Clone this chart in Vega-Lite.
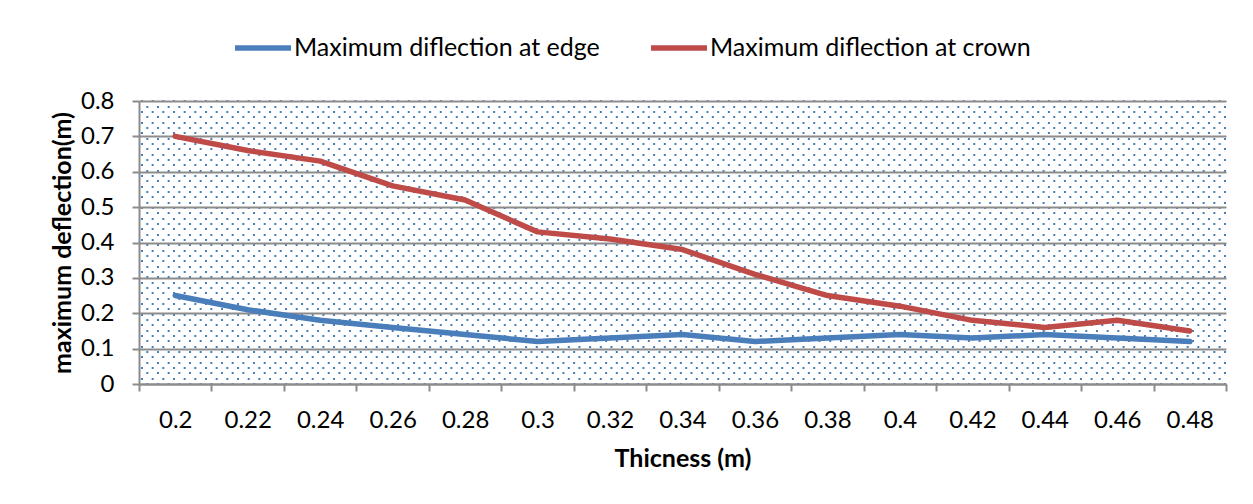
{
  "$schema": "https://vega.github.io/schema/vega-lite/v6.json",
  "width": 1087,
  "height": 283,
  "autosize": {"type": "none"},
  "padding": {"left": 139, "top": 101, "right": 27, "bottom": 120},
  "background": "white",
  "config": {
    "view": {"stroke": null},
    "font": "Lato",
    "axis": {"labelFont": "Lato", "titleFont": "Lato", "labelColor": "#000000", "titleColor": "#000000"}
  },
  "data": {
    "values": [
      {"t": 0.2, "series": "Maximum diflection at edge", "value": 0.25},
      {"t": 0.22, "series": "Maximum diflection at edge", "value": 0.21},
      {"t": 0.24, "series": "Maximum diflection at edge", "value": 0.18},
      {"t": 0.26, "series": "Maximum diflection at edge", "value": 0.16},
      {"t": 0.28, "series": "Maximum diflection at edge", "value": 0.14},
      {"t": 0.3, "series": "Maximum diflection at edge", "value": 0.12},
      {"t": 0.32, "series": "Maximum diflection at edge", "value": 0.13},
      {"t": 0.34, "series": "Maximum diflection at edge", "value": 0.14},
      {"t": 0.36, "series": "Maximum diflection at edge", "value": 0.12},
      {"t": 0.38, "series": "Maximum diflection at edge", "value": 0.13},
      {"t": 0.4, "series": "Maximum diflection at edge", "value": 0.14},
      {"t": 0.42, "series": "Maximum diflection at edge", "value": 0.13},
      {"t": 0.44, "series": "Maximum diflection at edge", "value": 0.14},
      {"t": 0.46, "series": "Maximum diflection at edge", "value": 0.13},
      {"t": 0.48, "series": "Maximum diflection at edge", "value": 0.12},
      {"t": 0.2, "series": "Maximum diflection at crown", "value": 0.7},
      {"t": 0.22, "series": "Maximum diflection at crown", "value": 0.66},
      {"t": 0.24, "series": "Maximum diflection at crown", "value": 0.63},
      {"t": 0.26, "series": "Maximum diflection at crown", "value": 0.56},
      {"t": 0.28, "series": "Maximum diflection at crown", "value": 0.52},
      {"t": 0.3, "series": "Maximum diflection at crown", "value": 0.43},
      {"t": 0.32, "series": "Maximum diflection at crown", "value": 0.41},
      {"t": 0.34, "series": "Maximum diflection at crown", "value": 0.38},
      {"t": 0.36, "series": "Maximum diflection at crown", "value": 0.31},
      {"t": 0.38, "series": "Maximum diflection at crown", "value": 0.25},
      {"t": 0.4, "series": "Maximum diflection at crown", "value": 0.22},
      {"t": 0.42, "series": "Maximum diflection at crown", "value": 0.18},
      {"t": 0.44, "series": "Maximum diflection at crown", "value": 0.16},
      {"t": 0.46, "series": "Maximum diflection at crown", "value": 0.18},
      {"t": 0.48, "series": "Maximum diflection at crown", "value": 0.15}
    ]
  },
  "layer": [
    {
      "mark": {"type": "rule", "opacity": 0},
      "encoding": {
        "y": {
          "datum": 0,
          "type": "quantitative",
          "scale": {"domain": [0, 53.06], "nice": false, "zero": false},
          "axis": {
            "orient": "right",
            "grid": true,
            "labels": false,
            "ticks": false,
            "domain": false,
            "title": null,
            "tickCount": 54,
            "translate": 0,
            "gridColor": "#4a7ebb",
            "gridOpacity": 1,
            "gridWidth": 2,
            "gridDash": [2, 8.67],
            "gridDashOffset": {"condition": {"test": "datum.value % 2 === 0", "value": 0}, "value": 5.33}
          }
        }
      }
    },
    {
      "mark": {"type": "line", "strokeWidth": 5.5, "strokeCap": "round", "strokeJoin": "round"},
      "encoding": {
        "x": {
          "field": "t",
          "type": "ordinal",
          "scale": {"type": "band", "paddingInner": 0, "paddingOuter": 0},
          "axis": {
            "title": "Thicness (m)",
            "titleFontSize": 25,
            "titleFontWeight": "bold",
            "titlePadding": 14,
            "labelFontSize": 24,
            "labelAngle": 0,
            "labelPadding": 17,
            "tickBand": "extent",
            "tickSize": 7,
            "tickColor": "#8c8c8c",
            "tickWidth": 2,
            "domainColor": "#8c8c8c",
            "domainWidth": 2,
            "grid": false
          }
        },
        "y": {
          "field": "value",
          "type": "quantitative",
          "scale": {"domain": [0, 0.8], "nice": false},
          "axis": {
            "title": "maximum deflection(m)",
            "titleFontSize": 25,
            "titleFontWeight": "bold",
            "titlePadding": 5,
            "labelFontSize": 24,
            "labelPadding": 18,
            "format": "~g",
            "values": [0, 0.1, 0.2, 0.3, 0.4, 0.5, 0.6, 0.7, 0.8],
            "tickSize": 7,
            "tickColor": "#8c8c8c",
            "tickWidth": 2,
            "domainColor": "#8c8c8c",
            "domainWidth": 2,
            "grid": true,
            "gridColor": "#8c8c8c",
            "gridWidth": 2
          }
        },
        "color": {
          "field": "series",
          "type": "nominal",
          "scale": {"domain": ["Maximum diflection at edge", "Maximum diflection at crown"], "range": ["#4a7ebb", "#be4b48"]},
          "legend": {
            "title": null,
            "orient": "none",
            "direction": "horizontal",
            "legendX": 93,
            "legendY": -84,
            "symbolType": "stroke",
            "symbolSize": 3136,
            "symbolStrokeWidth": 5.5,
            "labelFontSize": 25,
            "labelFont": "Lato",
            "labelColor": "#000000",
            "labelLimit": 0,
            "labelOffset": 0,
            "columnPadding": 40
          }
        }
      }
    }
  ],
  "resolve": {"scale": {"y": "independent"}, "axis": {"y": "independent"}}
}
